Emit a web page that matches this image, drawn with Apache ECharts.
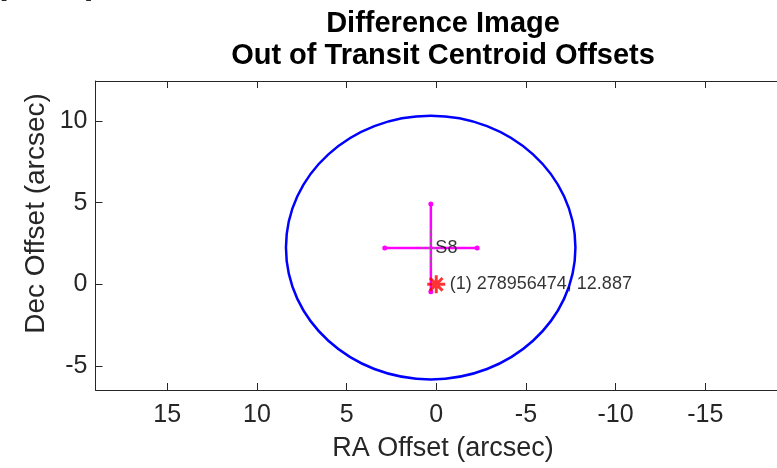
<!DOCTYPE html>
<html>
<head>
<meta charset="utf-8">
<script src="https://cdn.jsdelivr.net/npm/echarts@6/dist/echarts.min.js"></script>
<style>
  html, body { margin: 0; padding: 0; background: #fff; }
  #chart { width: 777px; height: 468px; }
</style>
</head>
<body>
<div id="chart"></div>
<script>
  // 刻度
  var raTicks = [15, 10, 5, 0, -5, -10, -15]
  var decTicks = [-5, 0, 5, 10]
  var raRange = [-19, 19]
  var decRange = [-6.47, 12.45]

  // 蓝圈: ra, dec, 半径 (arcsec)
  var circle = [0.31, 2.25, 8.07]
  // 质心 + 误差棒
  var centroid = [0.3, 2.23]
  var raBar = [2.87, -2.28]
  var decBar = [4.92, -0.45]
  // 绿色虚线小十字
  var innerRa = [0.85, -0.25]
  var innerDec = [3.33, 1.06]
  // 目标星
  var star = [0, 0]
  var starLabel = '(1) 278956474, 12.887'
  var centroidLabel = 'S8'

  var FONT = '"Liberation Sans", Arial, Helvetica, sans-serif'
  var AXIS_COLOR = '#262626'

  var chart = echarts.init(document.getElementById('chart'))

  var tickOpt = { inside: true, length: 7, lineStyle: { color: AXIS_COLOR } }
  var lineOpt = { show: true, onZero: false, lineStyle: { color: AXIS_COLOR } }

  chart.setOption({
    animation: false,
    grid: { left: 95.5, top: 81, bottom: 78, right: -14 },
    graphic: [
      {
        type: 'text',
        x: 443, y: 8,
        style: {
          text: 'Difference Image\nOut of Transit Centroid Offsets',
          align: 'center', verticalAlign: 'top',
          font: 'bold 29px ' + FONT, lineHeight: 32, fill: '#000'
        }
      },
      {
        // 顶部被裁掉的括号
        type: 'text', x: 0, y: 1,
        style: { text: '[', verticalAlign: 'bottom', font: '24px ' + FONT, fill: AXIS_COLOR }
      },
      {
        type: 'text', x: 86, y: 1,
        style: { text: ']', verticalAlign: 'bottom', font: '24px ' + FONT, fill: AXIS_COLOR }
      },
      {
        type: 'text',
        x: 443, y: 449,
        style: {
          text: 'RA Offset (arcsec)',
          align: 'center', verticalAlign: 'middle',
          font: '27px ' + FONT, fill: AXIS_COLOR
        }
      },
      {
        type: 'text',
        x: 36, y: 213.5, rotation: Math.PI / 2,
        style: {
          text: 'Dec Offset (arcsec)',
          align: 'center', verticalAlign: 'middle',
          font: '28px ' + FONT, fill: AXIS_COLOR
        }
      }
    ],
    xAxis: [
      {
        type: 'value', inverse: true, min: raRange[0], max: raRange[1],
        position: 'bottom',
        axisLine: lineOpt,
        axisTick: Object.assign({ customValues: raTicks }, tickOpt),
        axisLabel: {
          customValues: raTicks, margin: 13,
          fontFamily: FONT, fontSize: 25, color: AXIS_COLOR
        },
        splitLine: { show: false }
      },
      {
        type: 'value', inverse: true, min: raRange[0], max: raRange[1],
        position: 'top',
        axisLine: lineOpt,
        axisTick: Object.assign({ customValues: raTicks }, tickOpt),
        axisLabel: { show: false },
        splitLine: { show: false }
      }
    ],
    yAxis: {
      type: 'value', min: decRange[0], max: decRange[1],
      position: 'left',
      axisLine: lineOpt,
      axisTick: Object.assign({ customValues: decTicks }, tickOpt),
      axisLabel: {
        customValues: decTicks, margin: 8,
        fontFamily: FONT, fontSize: 25, color: AXIS_COLOR
      },
      splitLine: { show: false }
    },
    series: [
      {
        // 蓝圈
        type: 'custom',
        data: [circle],
        encode: { x: 0, y: 1 },
        renderItem: function (params, api) {
          var c = api.coord([api.value(0), api.value(1)])
          var r = api.size([api.value(2), api.value(2)])
          return {
            type: 'ellipse',
            shape: { cx: c[0], cy: c[1], rx: r[0], ry: r[1] },
            style: { fill: 'none', stroke: '#0000ff', lineWidth: 2.5 }
          }
        },
        z: 1
      },
      {
        type: 'line',
        data: [[raBar[0], centroid[1]], [raBar[1], centroid[1]]],
        symbol: 'circle', symbolSize: 5, showSymbol: true,
        itemStyle: { color: '#ff00ff' },
        lineStyle: { color: '#ff00ff', width: 2.5 },
        z: 2
      },
      {
        type: 'line',
        data: [[centroid[0], decBar[0]], [centroid[0], decBar[1]]],
        symbol: 'circle', symbolSize: 5, showSymbol: true,
        itemStyle: { color: '#ff00ff' },
        lineStyle: { color: '#ff00ff', width: 2.5 },
        z: 2
      },
      {
        type: 'line',
        data: [[innerRa[0], centroid[1]], [innerRa[1], centroid[1]]],
        symbol: 'none',
        lineStyle: { color: '#5f8f5f', width: 1, type: [3, 3] },
        z: 3
      },
      {
        type: 'line',
        data: [[centroid[0], innerDec[0]], [centroid[0], innerDec[1]]],
        symbol: 'none',
        lineStyle: { color: '#5f8f5f', width: 1, type: [3, 3] },
        z: 3
      },
      {
        // 质心标签
        type: 'scatter',
        data: [centroid],
        symbolSize: 1,
        itemStyle: { color: 'rgba(0,0,0,0)' },
        label: {
          show: true, position: 'right', distance: 4,
          formatter: centroidLabel,
          fontFamily: FONT, fontSize: 18, color: '#000'
        },
        z: 4
      },
      {
        // 目标星
        type: 'scatter',
        data: [star],
        symbol: 'path://M10,0L10,20M0,10L20,10M3,3L17,17M3,17L17,3',
        symbolSize: 18,
        itemStyle: { color: 'rgba(0,0,0,0)', borderColor: '#ff0000', borderWidth: 3 },
        label: {
          show: true, position: 'right', distance: 3,
          formatter: starLabel,
          fontFamily: FONT, fontSize: 18, color: '#000'
        },
        z: 5
      }
    ]
  })
</script>
</body>
</html>
